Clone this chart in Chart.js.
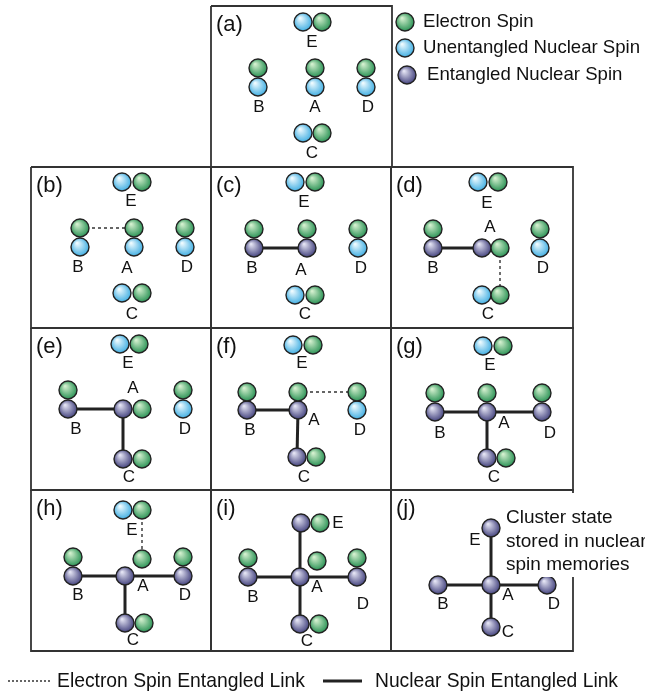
<!DOCTYPE html>
<html>
<head>
<meta charset="utf-8">
<script src="https://cdn.jsdelivr.net/npm/chart.js@4"></script>
<style>
  html, body { margin: 0; padding: 0; background: #fff; }
  canvas { display: block; }
</style>
</head>
<body>
<canvas id="chart" width="645" height="692"></canvas>
<script>
// panels (a)..(j): tag and frame
const panelTags = ["(a)", "(b)", "(c)", "(d)", "(e)", "(f)", "(g)", "(h)", "(i)", "(j)"];
const panelLeft = [211, 31, 211, 391, 31, 211, 391, 31, 211, 391];
const panelRight = [392, 211, 391, 573, 211, 391, 573, 211, 391, 573];
const panelTop = [6, 167, 167, 167, 328, 328, 328, 490, 490, 490];
const panelBottom = [167, 328, 328, 328, 490, 490, 490, 651, 651, 651];

// spins inside each panel, in panel units (from its top-left corner)
const electronSpins = [
  [[111, 16], [47, 62], [104, 62], [155, 62], [111, 127]],
  [[111, 15], [49, 61], [103, 61], [154, 61], [111, 126]],
  [[104, 15], [43, 62], [96, 62], [147, 62], [104, 128]],
  [[107, 15], [42, 62], [109, 81], [149, 62], [109, 128]],
  [[108, 16], [37, 62], [111, 81], [152, 62], [111, 131]],
  [[102, 17], [36, 64], [87, 64], [146, 64], [105, 129]],
  [[112, 18], [44, 65], [96, 65], [151, 65], [115, 130]],
  [[111, 20], [42, 67], [111, 69], [152, 67], [113, 133]],
  [[109, 33], [37, 68], [106, 71], [146, 68], [108, 134]],
  [],
];
const freeNuclearSpins = [
  [[92, 16], [47, 81], [104, 81], [155, 81], [92, 127]],
  [[91, 15], [49, 80], [103, 80], [154, 80], [91, 126]],
  [[84, 15], [147, 81], [84, 128]],
  [[87, 15], [149, 81], [91, 128]],
  [[89, 16], [152, 81]],
  [[82, 17], [146, 82]],
  [[92, 18]],
  [[92, 20]],
  [],
  [],
];
const entangledNuclearSpins = [
  [],
  [],
  [[43, 81], [96, 81]],
  [[42, 81], [91, 81]],
  [[37, 81], [92, 81], [92, 131]],
  [[36, 82], [87, 82], [86, 129]],
  [[44, 84], [96, 84], [151, 84], [96, 130]],
  [[42, 86], [94, 86], [152, 86], [94, 133]],
  [[90, 33], [37, 87], [89, 87], [146, 87], [89, 134]],
  [[100, 38], [47, 95], [100, 95], [156, 95], [100, 137]],
];

// links: [x1, y1, x2, y2] in panel units
const electronLinks = [
  [], [[49, 61, 103, 61]], [], [[109, 81, 109, 128]], [],
  [[87, 64, 146, 64]], [], [[111, 20, 111, 69]], [], [],
];
const nuclearLinks = [
  [], [],
  [[43, 81, 96, 81]],
  [[42, 81, 91, 81]],
  [[37, 81, 92, 81], [92, 81, 92, 131]],
  [[36, 82, 87, 82], [87, 82, 86, 129]],
  [[44, 84, 151, 84], [96, 84, 96, 130]],
  [[42, 86, 152, 86], [94, 86, 94, 133]],
  [[37, 87, 146, 87], [89, 33, 89, 134]],
  [[47, 95, 156, 95], [100, 38, 100, 137]],
];

// site letters per panel: [letter, x, y]
const siteLabels = [
  [["E", 101, 36], ["B", 48, 101], ["A", 104, 101], ["D", 157, 101], ["C", 101, 147]],
  [["E", 100, 34], ["B", 47, 100], ["A", 96, 101], ["D", 156, 100], ["C", 101, 147]],
  [["E", 93, 35], ["B", 41, 101], ["A", 90, 103], ["D", 150, 101], ["C", 94, 147]],
  [["E", 96, 36], ["A", 99, 60], ["B", 42, 101], ["D", 152, 101], ["C", 97, 147]],
  [["E", 97, 35], ["A", 102, 60], ["B", 45, 101], ["D", 154, 101], ["C", 98, 149]],
  [["E", 91, 35], ["B", 39, 102], ["A", 103, 92], ["D", 149, 102], ["C", 93, 149]],
  [["E", 99, 37], ["B", 49, 105], ["A", 113, 95], ["D", 159, 105], ["C", 103, 149]],
  [["E", 101, 40], ["B", 47, 105], ["A", 112, 96], ["D", 154, 105], ["C", 102, 150]],
  [["E", 127, 33], ["B", 42, 107], ["A", 106, 97], ["D", 152, 114], ["C", 96, 151]],
  [["E", 84, 50], ["B", 52, 114], ["A", 117, 105], ["D", 163, 114], ["C", 117, 142]],
];
const clusterNote = ["Cluster state", "stored in nuclear", "spin memories"];

const keyLabels = ["Electron Spin", "Unentangled Nuclear Spin", "Entangled Nuclear Spin"];
const linkKeyLabels = ["Electron Spin Entangled Link", "Nuclear Spin Entangled Link"];

const GREEN = ["#d4f0cf", "#1f8c4d"];
const BLUE = ["#effbff", "#35a9e0"];
const PURPLE = ["#e4e4f4", "#3a3977"];

const toCanvas = (p, pt) => ({ x: panelLeft[p] + pt[0], y: panelTop[p] + pt[1] });

const shade = (colors) => (ctx) => {
  if (!ctx.raw || ctx.type !== "data") return colors[1];
  const { x, y } = ctx.chart.scales;
  if (!x || !y) return colors[1];
  const px = x.getPixelForValue(ctx.raw.x);
  const py = y.getPixelForValue(ctx.raw.y);
  if (!isFinite(px) || !isFinite(py)) return colors[1];
  const g = ctx.chart.ctx.createRadialGradient(px - 3, py - 4, 0.5, px, py, 10);
  g.addColorStop(0, colors[0]);
  g.addColorStop(1, colors[1]);
  return g;
};

const spinSet = (label, groups, colors, extra) => ({
  label,
  data: groups.flatMap((pts, p) => pts.map((pt) => toCanvas(p, pt))).concat(extra),
  showLine: false,
  pointRadius: 9,
  pointBorderWidth: 1.4,
  pointBorderColor: "#222",
  pointBackgroundColor: shade(colors),
  order: 1,
});

const datasets = [];

panelTags.forEach((_, p) => {
  const l = panelLeft[p], r = panelRight[p], t = panelTop[p], b = panelBottom[p];
  datasets.push({
    data: [{ x: l, y: t }, { x: r, y: t }, { x: r, y: b }, { x: l, y: b }, { x: l, y: t }],
    showLine: true, borderColor: "#333", borderWidth: 1.8, pointRadius: 0, order: 5,
  });
  electronLinks[p].forEach((k) => datasets.push({
    data: [toCanvas(p, [k[0], k[1]]), toCanvas(p, [k[2], k[3]])],
    showLine: true, borderColor: "#333", borderWidth: 1.4, borderDash: [3, 3],
    pointRadius: 0, order: 3,
  }));
  nuclearLinks[p].forEach((k) => datasets.push({
    data: [toCanvas(p, [k[0], k[1]]), toCanvas(p, [k[2], k[3]])],
    showLine: true, borderColor: "#222", borderWidth: 3, pointRadius: 0, order: 3,
  }));
});

// link key at the bottom
datasets.push({
  data: [{ x: 8, y: 681 }, { x: 50, y: 681 }],
  showLine: true, borderColor: "#333", borderWidth: 1.4, borderDash: [2, 2], pointRadius: 0, order: 3,
});
datasets.push({
  data: [{ x: 323, y: 681 }, { x: 362, y: 681 }],
  showLine: true, borderColor: "#222", borderWidth: 3, pointRadius: 0, order: 3,
});

datasets.push(spinSet("Electron Spin", electronSpins, GREEN, [{ x: 405, y: 22 }]));
datasets.push(spinSet("Unentangled Nuclear Spin", freeNuclearSpins, BLUE, [{ x: 405, y: 48 }]));
datasets.push(spinSet("Entangled Nuclear Spin", entangledNuclearSpins, PURPLE, [{ x: 407, y: 75 }]));

const textPlugin = {
  id: "texts",
  afterDatasetsDraw(chart) {
    const { ctx } = chart;
    const sx = (v) => chart.scales.x.getPixelForValue(v);
    const sy = (v) => chart.scales.y.getPixelForValue(v);
    ctx.save();
    ctx.textBaseline = "middle";

    // note in (j) sits on a white patch over the frame
    ctx.fillStyle = "#fff";
    ctx.fillRect(sx(panelLeft[9] + 113), sy(panelTop[9] + 3), sx(645) - sx(panelLeft[9] + 113), sy(panelTop[9] + 87) - sy(panelTop[9] + 3));
    ctx.fillStyle = "#111";
    ctx.font = "19px 'Liberation Sans', Arial, sans-serif";
    ctx.textAlign = "left";
    clusterNote.forEach((s, i) => ctx.fillText(s, sx(panelLeft[9] + 115), sy(panelTop[9] + 28 + i * 23.5)));

    ctx.font = "22px 'Liberation Sans', Arial, sans-serif";
    panelTags.forEach((tag, p) => ctx.fillText(tag, sx(panelLeft[p] + 5), sy(panelTop[p] + 19)));

    ctx.font = "17px 'Liberation Sans', Arial, sans-serif";
    ctx.textAlign = "center";
    siteLabels.forEach((list, p) => list.forEach(([s, x, y]) => {
      ctx.fillText(s, sx(panelLeft[p] + x), sy(panelTop[p] + y));
    }));

    ctx.font = "18.6px 'Liberation Sans', Arial, sans-serif";
    ctx.textAlign = "left";
    ctx.fillText(keyLabels[0], sx(423), sy(22));
    ctx.fillText(keyLabels[1], sx(423), sy(48));
    ctx.fillText(keyLabels[2], sx(427), sy(75));

    // narrow face for the link key
    const narrow = (s, x, y, w) => {
      ctx.font = "21px 'Liberation Sans', Arial, sans-serif";
      const m = ctx.measureText(s).width;
      ctx.save();
      ctx.translate(sx(x), sy(y));
      ctx.scale(w / m, 1);
      ctx.fillText(s, 0, 0);
      ctx.restore();
    };
    narrow(linkKeyLabels[0], 57, 681, 248);
    narrow(linkKeyLabels[1], 375, 681, 243);
    ctx.restore();
  },
};

new Chart(document.getElementById("chart"), {
  type: "scatter",
  data: { datasets },
  options: {
    responsive: false,
    animation: false,
    events: [],
    layout: { padding: 0, autoPadding: false },
    scales: {
      x: { type: "linear", min: 0, max: 645, display: false },
      y: { type: "linear", min: 0, max: 692, reverse: true, display: false },
    },
    plugins: { legend: { display: false }, tooltip: { enabled: false } },
  },
  plugins: [textPlugin],
});
</script>
</body>
</html>
